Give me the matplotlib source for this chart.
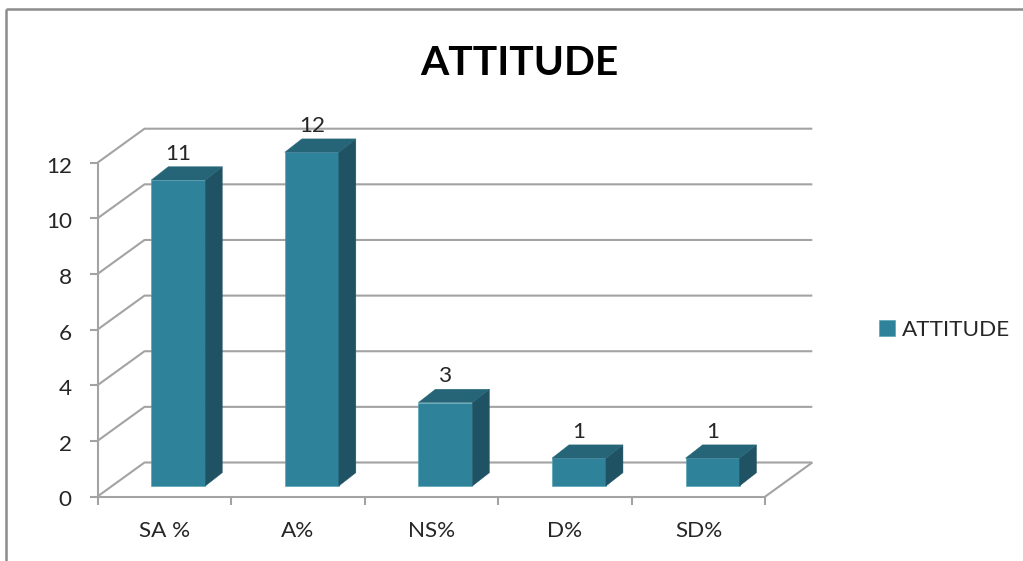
import matplotlib
matplotlib.use("Agg")
import matplotlib.pyplot as plt
from matplotlib.lines import Line2D
from matplotlib.patches import Patch, Polygon
from matplotlib.transforms import ScaledTranslation

categories = ["SA %", "A%", "NS%", "D%", "SD%"]
values = [11, 12, 3, 1, 1]
y_ticks = [0, 2, 4, 6, 8, 10, 12]
title = "ATTITUDE"
series_name = "ATTITUDE"

W, H = 1023, 561
FRONT = "#2E8299"
SIDE = "#1F5364"
TOP = "#256577"
GRID = "#A3A3A3"
TEXT = "#262626"
plt.rcParams["font.family"] = ["Lato", "DejaVu Sans"]

fig = plt.figure(figsize=(W / 100, H / 100), dpi=100, facecolor="white")
left, right, y0, y12 = 97.5, 765.3, 496.5, 162.7
ax = fig.add_axes([left / W, 1 - y0 / H, (right - left) / W, (y0 - y12) / H])
ax.set_xlim(0, 5)
ax.set_ylim(0, 12)
ax.patch.set_alpha(0)
ux = (right - left) / 5
uy = (y0 - y12) / 12

# 3-D depth of the floor and of the bars
dx, dy = 47 / ux, 34 / uy
bdx, bdy = 17 / ux, 13.3 / uy
base = 10.5 / uy
bw = 54 / ux
shift = 14 / ux

line = dict(color=GRID, lw=1.5, clip_on=False, solid_capstyle="butt", zorder=1)
for t in y_ticks:
    ax.plot([0, dx, 5 + dx], [t, t + dy, t + dy], **line)
ax.plot([5, 5 + dx], [0, dy], **line)

xs = [i + 0.5 + shift for i in range(len(values))]
ax.bar(xs, values, width=bw, bottom=base, color=FRONT, zorder=3,
       edgecolor="#4A9DB3", linewidth=0.4, clip_on=False)
for x, v in zip(xs, values):
    l, r, b, t = x - bw / 2, x + bw / 2, base, base + v
    ax.add_patch(Polygon([(r, b), (r + bdx, b + bdy), (r + bdx, t + bdy), (r, t)],
                         fc=SIDE, ec=SIDE, lw=0.3, zorder=3, clip_on=False))
    ax.add_patch(Polygon([(l, t), (l + bdx, t + bdy), (r + bdx, t + bdy), (r, t)],
                         fc=TOP, ec=TOP, lw=0.3, zorder=3, clip_on=False))
    ax.annotate(str(v), (x, t + bdy), xytext=(0, 2), textcoords="offset points",
                ha="center", va="bottom", fontsize=16.2, color=TEXT, zorder=4,
                annotation_clip=False)

for s in ["top", "right"]:
    ax.spines[s].set_visible(False)
for s in ["left", "bottom"]:
    ax.spines[s].set_color(GRID)
    ax.spines[s].set_linewidth(1.5)
ax.set_yticks(y_ticks)
ax.set_xticks(range(6))
ax.set_xticklabels([])
ax.set_xticks([i + 0.5 for i in range(5)], categories, minor=True)
ax.tick_params(axis="y", length=6, width=1.5, color=GRID, labelsize=16.2,
               labelcolor=TEXT, pad=12.5)
ax.tick_params(axis="x", which="major", length=6, width=1.5, color=GRID)
ax.tick_params(axis="x", which="minor", length=0, labelsize=16.2,
               labelcolor=TEXT, pad=17.7)
for lab in ax.get_yticklabels():
    lab.set_transform(lab.get_transform() + ScaledTranslation(0, -2 / 100, fig.dpi_scale_trans))

fig.text(519.5 / W, 1 - 63.5 / H, title, ha="center", va="center", fontsize=29.3,
         fontweight="bold", color="black")

fig.legend(handles=[Patch(facecolor=FRONT, edgecolor="#4A9DB3", linewidth=0.4, label=series_name)],
           loc="center left", bbox_to_anchor=(859 / W, 1 - 330 / H), frameon=False,
           fontsize=16.2, handlelength=0.71, handleheight=0.71, handletextpad=0.31,
           labelcolor=TEXT)

frame = dict(color="#8C8C8C", lw=1.8, transform=fig.transFigure, solid_capstyle="butt")
fig.add_artist(Line2D([6 / W, 6 / W], [0, 1 - 9 / H], **frame))
fig.add_artist(Line2D([6 / W, 1], [1 - 9 / H, 1 - 9 / H], **frame))

fig.savefig("out.png", dpi=100)
